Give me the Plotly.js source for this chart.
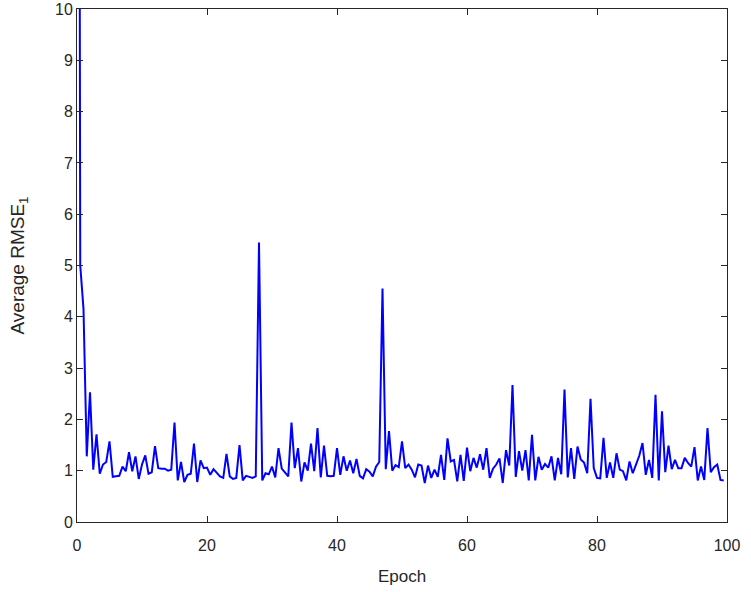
<!DOCTYPE html>
<html>
<head>
<meta charset="utf-8">
<script src="https://cdn.plot.ly/plotly-3.0.1.min.js"></script>
<style>html,body{margin:0;padding:0;background:#fff;}#chart{width:751px;height:592px;}</style>
</head>
<body>
<div id="chart"></div>
<script>
// Epochs are sampled every half epoch, starting at 0
const epochStart = 0;
const epochStep = 0.5;

// Average RMSE_1 per sample
const rmse = [
  40, 5.0, 4.15, 1.28, 2.53, 1.02, 1.71, 0.94, 1.12, 1.17,
  1.57, 0.88, 0.89, 0.9, 1.08, 0.99, 1.36, 0.99, 1.28, 0.84,
  1.12, 1.3, 0.94, 0.97, 1.48, 1.05, 1.04, 1.04, 1.0, 1.02,
  1.94, 0.81, 1.17, 0.78, 0.92, 0.94, 1.53, 0.78, 1.2, 1.05,
  1.06, 0.92, 1.03, 0.95, 0.89, 0.86, 1.33, 0.89, 0.84, 0.86,
  1.5, 0.81, 0.9, 0.88, 0.86, 0.89, 5.45, 0.81, 0.95, 0.93,
  1.08, 0.87, 1.44, 1.04, 0.97, 0.89, 1.94, 1.05, 1.44, 0.79,
  1.16, 1.0, 1.53, 0.99, 1.83, 0.87, 1.49, 0.9, 0.89, 0.9,
  1.44, 0.92, 1.28, 1.0, 1.2, 0.95, 1.23, 0.9, 0.85, 1.03,
  0.98, 0.89, 1.08, 1.17, 4.55, 1.03, 1.77, 1.0, 1.11, 1.07,
  1.57, 1.05, 1.12, 1.02, 0.87, 1.12, 1.1, 0.76, 1.1, 0.86,
  1.02, 0.88, 1.31, 0.82, 1.63, 1.18, 1.21, 0.79, 1.31, 0.8,
  1.45, 0.99, 1.25, 1.06, 1.32, 1.02, 1.44, 0.86, 1.04, 1.12,
  1.24, 0.76, 1.4, 1.1, 2.67, 0.88, 1.38, 1.0, 1.4, 0.81,
  1.7, 0.81, 1.27, 1.02, 1.13, 1.06, 1.28, 0.81, 1.25, 0.93,
  2.58, 0.87, 1.44, 0.84, 1.47, 1.22, 1.16, 0.95, 2.4, 1.05,
  0.86, 0.85, 1.64, 0.86, 1.16, 0.86, 1.34, 1.02, 0.99, 0.81,
  1.18, 0.95, 1.12, 1.29, 1.54, 0.92, 1.21, 0.86, 2.48, 0.81,
  2.16, 0.97, 1.49, 1.03, 1.21, 1.05, 1.05, 1.25, 1.15, 1.08,
  1.46, 0.81, 1.08, 0.82, 1.83, 0.97, 1.07, 1.12, 0.82, 0.81
];

const xTicks = [0, 20, 40, 60, 80, 100];
const yTicks = [0, 1, 2, 3, 4, 5, 6, 7, 8, 9, 10];

const axisColor = '#262626';
const trace = {
  type: 'scatter',
  mode: 'lines',
  x0: epochStart,
  dx: epochStep,
  y: rmse,
  line: {color: '#0000ff', width: 2},
  hoverinfo: 'x+y'
};

const layout = {
  width: 751,
  height: 592,
  margin: {l: 77, r: 24, t: 9, b: 70},
  paper_bgcolor: '#ffffff',
  plot_bgcolor: '#ffffff',
  showlegend: false,
  font: {family: 'Liberation Sans, Arial, sans-serif', color: axisColor, size: 16},
  xaxis: {
    range: [0, 100],
    tickvals: xTicks,
    ticktext: xTicks.map(String),
    ticks: 'inside',
    ticklen: 6,
    tickwidth: 1,
    tickcolor: axisColor,
    ticklabelstandoff: 9,
    showline: true,
    linecolor: axisColor,
    linewidth: 1,
    mirror: 'ticks',
    showgrid: false,
    zeroline: false,
    tickfont: {size: 16, color: axisColor},
    title: {text: 'Epoch', font: {size: 17, color: axisColor}, standoff: 16}
  },
  yaxis: {
    range: [0, 10],
    tickvals: yTicks,
    ticktext: yTicks.map(String),
    ticks: 'inside',
    ticklen: 6,
    tickwidth: 1,
    tickcolor: axisColor,
    showline: true,
    linecolor: axisColor,
    linewidth: 1,
    mirror: 'ticks',
    showgrid: false,
    zeroline: false,
    tickfont: {size: 16, color: axisColor},
    title: {text: 'Average RMSE<sub>1</sub>', font: {size: 19, color: axisColor}, standoff: 25}
  }
};

Plotly.newPlot('chart', [trace], layout, {displayModeBar: false, staticPlot: true});
</script>
</body>
</html>
